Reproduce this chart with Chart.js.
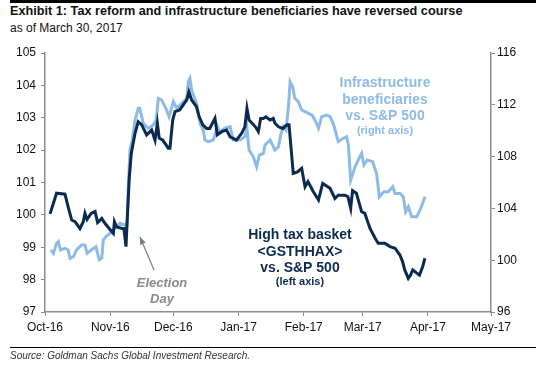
<!DOCTYPE html>
<html>
<head>
<meta charset="utf-8">
<script src="https://cdn.jsdelivr.net/npm/chart.js@4.4.1/dist/chart.umd.min.js"></script>
<style>
  html, body { margin: 0; padding: 0; background: #fff; }
  body { width: 536px; height: 373px; position: relative; overflow: hidden; font-family: "Liberation Sans", Arial, sans-serif; }
  #topRule { position: absolute; left: 10px; right: 0; top: 0; height: 3px; background: #000; }
  #title { position: absolute; left: 10px; top: 4px; font-size: 12.7px; font-weight: bold; color: #111; white-space: nowrap; }
  #subtitle { position: absolute; left: 10px; top: 21px; font-size: 12px; color: #111; white-space: nowrap; }
  #chartBox { position: absolute; left: 0; top: 0; width: 536px; height: 373px; }
  #bottomRule { position: absolute; left: 10px; right: 0; top: 347px; height: 1px; background: #000; }
  #source { position: absolute; left: 10px; top: 350px; font-size: 10px; font-style: italic; color: #333; white-space: nowrap; }
</style>
</head>
<body>
<div id="topRule"></div>
<div id="title">Exhibit 1: Tax reform and infrastructure beneficiaries have reversed course</div>
<div id="subtitle">as of March 30, 2017</div>
<div id="chartBox"><canvas id="chart" width="536" height="373"></canvas></div>
<div id="bottomRule"></div>
<div id="source">Source: Goldman Sachs Global Investment Research.</div>
<script>
// x values are days since 1 Oct 2016
const monthTicks = [0, 31, 61, 92, 123, 151, 182, 212];
const monthLabels = ['Oct-16', 'Nov-16', 'Dec-16', 'Jan-17', 'Feb-17', 'Mar-17', 'Apr-17', 'May-17'];

// High tax basket <GSTHHAX> vs. S&P 500 (left axis)
const taxDays = [2.4, 5.5, 9.5, 11, 12.7, 14.3, 16.6, 18.2, 19, 20, 22, 23.8, 25, 27, 28.5, 30.9, 32.5, 33, 34, 36.5, 37.5, 38.5, 39, 40, 41, 42.8, 44.3, 46, 48.3, 50.7, 52.3, 53.4, 54.3, 56, 58.6, 59.4, 60.7, 61.8, 64, 67.4, 68.4, 69.7, 72, 73.3, 75, 76.8, 78.3, 80.8, 81.9, 84, 86.3, 88, 91, 93.5, 95, 96, 97, 100, 101.4, 102.5, 103.8, 105, 107, 108.5, 109.3, 111, 113, 115, 116, 118, 120, 122, 123.6, 125, 127.5, 130, 132, 135.5, 137.8, 139.4, 142.6, 144, 145.3, 146.2, 148, 150.5, 152, 154.5, 157, 158.4, 161.6, 164, 166.4, 168.7, 170, 171, 172.7, 173.8, 174.8, 176.7, 178, 179.5, 180.6];
const taxValues = [100.03, 100.67, 100.64, 100.25, 99.84, 99.79, 99.58, 99.79, 100.05, 99.86, 100.05, 100.1, 99.76, 99.89, 99.74, 99.55, 99.43, 99.79, 99.63, 99.58, 99.58, 99.02, 99.74, 101.08, 101.9, 102.52, 102.88, 102.78, 102.47, 102.62, 102.31, 102.83, 102.37, 102.31, 102.06, 102.06, 102.93, 103.19, 103.24, 103.55, 103.8, 103.55, 103.34, 103.03, 102.78, 102.67, 102.67, 102.98, 102.47, 102.57, 102.62, 102.41, 102.31, 102.52, 102.72, 103.29, 102.93, 102.72, 102.57, 102.98, 102.98, 103.03, 102.93, 102.98, 102.83, 102.72, 102.67, 102.78, 102.78, 101.28, 101.33, 101.44, 100.87, 101.03, 100.72, 100.46, 100.97, 100.82, 100.51, 100.61, 100.61, 100.56, 100.2, 100.75, 100.67, 100.1, 100.05, 99.58, 99.27, 99.12, 99.12, 99.02, 98.97, 98.76, 98.55, 98.3, 98.04, 98.14, 98.3, 98.2, 98.14, 98.4, 98.66];

// Infrastructure beneficiaries vs. S&P 500 (right axis)
const infraDays = [2.7, 4, 5.5, 6.3, 7.4, 9.5, 11, 11.9, 13.5, 15, 17.4, 19, 20, 22, 24.2, 25.8, 27, 27.7, 29, 30.9, 33.3, 35.6, 38, 39, 39.6, 40.4, 41.5, 42.8, 44.3, 45, 46.7, 49, 51.5, 52.8, 53.9, 55.5, 57.8, 59, 61, 62.6, 65, 67.4, 68.1, 68.9, 69.7, 72, 73.7, 75.2, 76, 77.6, 80, 82, 83, 85.6, 88, 89.5, 92.7, 95, 96, 97, 99, 100.6, 101.9, 103.8, 104.6, 107, 109.3, 111, 112, 113.3, 114.6, 115.7, 116.5, 117.7, 118.8, 120.4, 122, 123.6, 125.2, 127, 128.3, 130, 131.5, 133.9, 135.5, 137, 139.4, 141.8, 143.4, 144.2, 145.3, 147.4, 149.3, 150.5, 151.6, 153.2, 155.7, 157.6, 158.9, 161.1, 163.2, 165.3, 166.4, 168.7, 170.3, 171.4, 172.7, 174.3, 176.7, 178.6, 180.6];
const infraValues = [100.79, 100.53, 101.3, 101.43, 100.79, 100.92, 100.79, 100.15, 100.27, 100.79, 101.17, 101.17, 100.53, 100.79, 101.04, 100.02, 100.15, 101.56, 101.82, 102.08, 102.46, 102.85, 102.72, 102.72, 105.68, 108.51, 109.28, 110.83, 111.73, 111.73, 110.57, 110.19, 110.44, 110.83, 112.5, 112.37, 111.6, 111.08, 112.24, 111.73, 112.12, 112.5, 113.78, 114.04, 113.14, 112.12, 110.57, 110.05, 109.28, 109.15, 109.28, 110.31, 109.92, 110.19, 110.31, 109.28, 109.28, 109.54, 110.19, 108.51, 107.99, 107.22, 108.12, 108.25, 108.9, 109.28, 108.51, 108.76, 109.67, 110.31, 110.05, 111.85, 113.78, 113.4, 112.5, 112.24, 111.6, 111.47, 111.34, 111.2, 110.83, 110.19, 111.08, 111.21, 111.08, 110.57, 109.15, 109.41, 109.54, 108.9, 106.19, 107.22, 107.87, 108.25, 107.35, 107.74, 107.61, 106.71, 104.9, 105.29, 105.29, 105.68, 105.16, 105.16, 104.9, 103.74, 104.13, 103.36, 103.36, 104.0, 104.9];

const darkBlue = '#0b2a4f';
const lightBlue = '#8dbbe6';
const axisGrey = '#8c8c8c';

const toPoints = (xs, ys) => xs.map((x, i) => ({ x: x, y: ys[i] }));

// --- In-chart labels and Election Day arrow ---
const annotations = {
  id: 'annotations',
  afterDatasetsDraw(chart) {
    const ctx = chart.ctx;
    ctx.save();
    ctx.textAlign = 'center';
    ctx.textBaseline = 'middle';

    ctx.fillStyle = lightBlue;
    ctx.font = 'bold 14px "Liberation Sans", Arial, sans-serif';
    ctx.fillText('Infrastructure', 385, 83);
    ctx.fillText('beneficiaries', 385, 100);
    ctx.fillText('vs. S&P 500', 385, 116);
    ctx.font = 'bold 11px "Liberation Sans", Arial, sans-serif';
    ctx.fillText('(right axis)', 385, 131);

    ctx.fillStyle = darkBlue;
    ctx.font = 'bold 14px "Liberation Sans", Arial, sans-serif';
    ctx.fillText('High tax basket', 300, 235);
    ctx.fillText('<GSTHHAX>', 300, 252);
    ctx.fillText('vs. S&P 500', 300, 268);
    ctx.font = 'bold 11px "Liberation Sans", Arial, sans-serif';
    ctx.fillText('(left axis)', 300, 282);

    ctx.fillStyle = '#8a8a8a';
    ctx.font = 'italic bold 13px "Liberation Sans", Arial, sans-serif';
    ctx.fillText('Election', 162, 283);
    ctx.fillText('Day', 162, 299);

    // arrow
    ctx.strokeStyle = '#7f7f7f';
    ctx.fillStyle = '#7f7f7f';
    ctx.lineWidth = 1.2;
    const x0 = 154, y0 = 270, x1 = 140, y1 = 237;
    ctx.beginPath();
    ctx.moveTo(x0, y0);
    ctx.lineTo(x1, y1);
    ctx.stroke();
    const ang = Math.atan2(y1 - y0, x1 - x0);
    ctx.beginPath();
    ctx.moveTo(x1, y1);
    ctx.lineTo(x1 - 8 * Math.cos(ang - 0.4), y1 - 8 * Math.sin(ang - 0.4));
    ctx.lineTo(x1 - 8 * Math.cos(ang + 0.4), y1 - 8 * Math.sin(ang + 0.4));
    ctx.closePath();
    ctx.fill();
    ctx.restore();
  }
};

const tickFont = { family: '"Liberation Sans", Arial, sans-serif', size: 12 };

new Chart(document.getElementById('chart').getContext('2d'), {
  type: 'line',
  data: {
    datasets: [
      {
        label: 'High tax basket',
        data: toPoints(taxDays, taxValues),
        yAxisID: 'yLeft',
        borderColor: darkBlue,
        borderWidth: 3,
        pointRadius: 0,
        tension: 0,
        order: 1
      },
      {
        label: 'Infrastructure beneficiaries',
        data: toPoints(infraDays, infraValues),
        yAxisID: 'yRight',
        borderColor: lightBlue,
        borderWidth: 3,
        pointRadius: 0,
        tension: 0,
        order: 2
      }
    ]
  },
  options: {
    responsive: false,
    animation: false,
    events: [],
    layout: { padding: { left: 0, right: 0, top: 53, bottom: 0 } },
    plugins: { legend: { display: false }, tooltip: { enabled: false } },
    scales: {
      x: {
        type: 'linear',
        min: monthTicks[0],
        max: monthTicks[monthTicks.length - 1],
        afterBuildTicks(scale) { scale.ticks = monthTicks.map(v => ({ value: v })); },
        afterFit(scale) { scale.height = 61; },
        ticks: {
          autoSkip: false,
          maxRotation: 0,
          padding: 4,
          color: '#111',
          font: tickFont,
          callback: (v) => monthLabels[monthTicks.indexOf(v)]
        },
        grid: { drawOnChartArea: false, drawTicks: true, tickLength: 4, color: axisGrey },
        border: { color: axisGrey, width: 1.5 }
      },
      yLeft: {
        position: 'left',
        min: 97,
        max: 105,
        afterFit(scale) { scale.width = 45; },
        ticks: { stepSize: 1, padding: 5, color: '#111', font: tickFont },
        grid: { drawOnChartArea: false, drawTicks: true, tickLength: 4, color: axisGrey },
        border: { color: axisGrey, width: 1.5 }
      },
      yRight: {
        position: 'right',
        min: 96,
        max: 116,
        afterFit(scale) { scale.width = 45; },
        ticks: { stepSize: 4, padding: 2, color: '#111', font: tickFont },
        grid: { drawOnChartArea: false, drawTicks: true, tickLength: 4, color: axisGrey },
        border: { color: axisGrey, width: 1.5 }
      }
    }
  },
  plugins: [annotations]
});
</script>
</body>
</html>
